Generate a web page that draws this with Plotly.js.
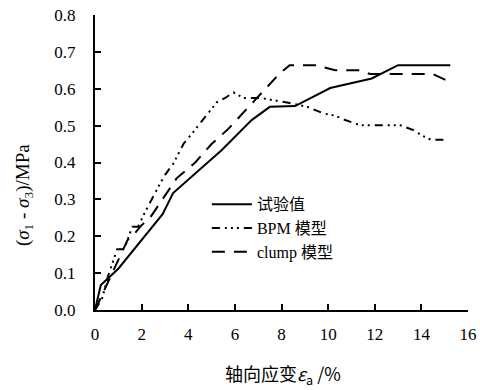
<!DOCTYPE html>
<html>
<head>
<meta charset="utf-8">
<script src="https://cdn.plot.ly/plotly-3.0.1.min.js"></script>
<style>html,body{margin:0;padding:0;background:#fff}#chart{width:480px;height:390px}</style>
</head>
<body>
<div id="chart"></div>
<script>
// Test values (solid)
const testX = [0, 0.25, 1.0, 2.0, 2.9, 3.35, 4.0, 5.44, 6.72, 7.5, 8.58, 10.09, 11.87, 13.0, 15.24];
const testY = [0, 0.068, 0.112, 0.19, 0.26, 0.317, 0.354, 0.434, 0.515, 0.551, 0.553, 0.602, 0.628, 0.664, 0.664];

// BPM model
const bpmX = [0, 0.3, 0.55, 0.95, 1.25, 1.6, 1.85, 2.15, 2.8, 3.0, 3.36, 3.8, 4.22, 4.5, 4.8, 5.22, 5.58, 5.94, 6.37, 7.1, 8.3, 9.1, 9.8, 10.3, 10.66, 11.37, 13.1, 13.66, 14.0, 14.4, 15.1];
const bpmY = [0, 0.03, 0.09, 0.165, 0.165, 0.226, 0.226, 0.266, 0.344, 0.366, 0.397, 0.451, 0.483, 0.506, 0.528, 0.563, 0.575, 0.59, 0.575, 0.575, 0.562, 0.551, 0.533, 0.527, 0.517, 0.501, 0.501, 0.488, 0.474, 0.462, 0.462];

// clump model
const clumpX = [0, 0.45, 0.86, 1.4, 1.6, 2.0, 2.36, 2.9, 3.5, 4.3, 5.0, 5.7, 6.5, 7.3, 7.9, 8.35, 9.5, 10.3, 11.3, 11.8, 14.5, 15.0, 15.2];
const clumpY = [0, 0.06, 0.117, 0.19, 0.2, 0.23, 0.25, 0.3, 0.357, 0.4, 0.45, 0.49, 0.545, 0.6, 0.64, 0.664, 0.664, 0.65, 0.65, 0.64, 0.64, 0.625, 0.625];

const seriesNames = ['试验值', 'BPM 模型', 'clump 模型'];
const xTicks = [0, 2, 4, 6, 8, 10, 12, 14, 16];
const yTicks = [0, 0.1, 0.2, 0.3, 0.4, 0.5, 0.6, 0.7, 0.8];

const serif = 'Liberation Serif';
const cjk = 'Liberation Serif, Noto Sans CJK SC';

const traces = [
  {x: testX, y: testY, name: seriesNames[0], mode: 'lines', line: {color: '#000', width: 2, dash: 'solid'}},
  {x: bpmX, y: bpmY, name: seriesNames[1], mode: 'lines', line: {color: '#000', width: 2, dash: '8px,5px,2px,4px,2px,4px,2px,5px'}},
  {x: clumpX, y: clumpY, name: seriesNames[2], mode: 'lines', line: {color: '#000', width: 2, dash: '13px,9px'}}
];

const layout = {
  width: 480, height: 390,
  margin: {l: 95, r: 12, t: 15, b: 80},
  paper_bgcolor: '#fff', plot_bgcolor: '#fff',
  font: {family: serif, size: 17, color: '#000'},
  showlegend: true,
  legend: {x: 0.3, y: 0.416, xanchor: 'left', yanchor: 'top', bgcolor: 'rgba(0,0,0,0)',
           font: {family: cjk, size: 16, color: '#000'}, itemwidth: 40, tracegroupgap: 0},
  xaxis: {range: [0, 16], tickvals: xTicks, ticktext: xTicks.map(String), showgrid: false, zeroline: false,
          showline: true, linecolor: '#000', linewidth: 2, ticks: 'inside', ticklen: 6, tickwidth: 2, tickcolor: '#000',
          ticklabelstandoff: 8, fixedrange: true},
  yaxis: {range: [0, 0.8], tickvals: yTicks, ticktext: yTicks.map(v => v.toFixed(1)), showgrid: false, zeroline: false,
          showline: true, linecolor: '#000', linewidth: 2, ticks: 'inside', ticklen: 6, tickwidth: 2, tickcolor: '#000',
          ticklabelstandoff: 14, fixedrange: true},
  annotations: [
    {text: '轴向应变<i>ε</i><sub>a</sub> /%', xref: 'paper', yref: 'paper', x: 0.505, y: -0.22, xanchor: 'center', yanchor: 'middle',
     showarrow: false, font: {family: 'Noto Sans CJK SC', size: 18, color: '#000'}},
    {text: '(<i>σ</i><sub>1</sub> - <i>σ</i><sub>3</sub>)/MPa', xref: 'paper', yref: 'paper', x: -0.19, y: 0.39, xanchor: 'center', yanchor: 'middle',
     textangle: -90, showarrow: false, font: {family: serif, size: 19, color: '#000'}}
  ]
};

Plotly.newPlot('chart', traces, layout, {displayModeBar: false, staticPlot: true});
</script>
</body>
</html>
